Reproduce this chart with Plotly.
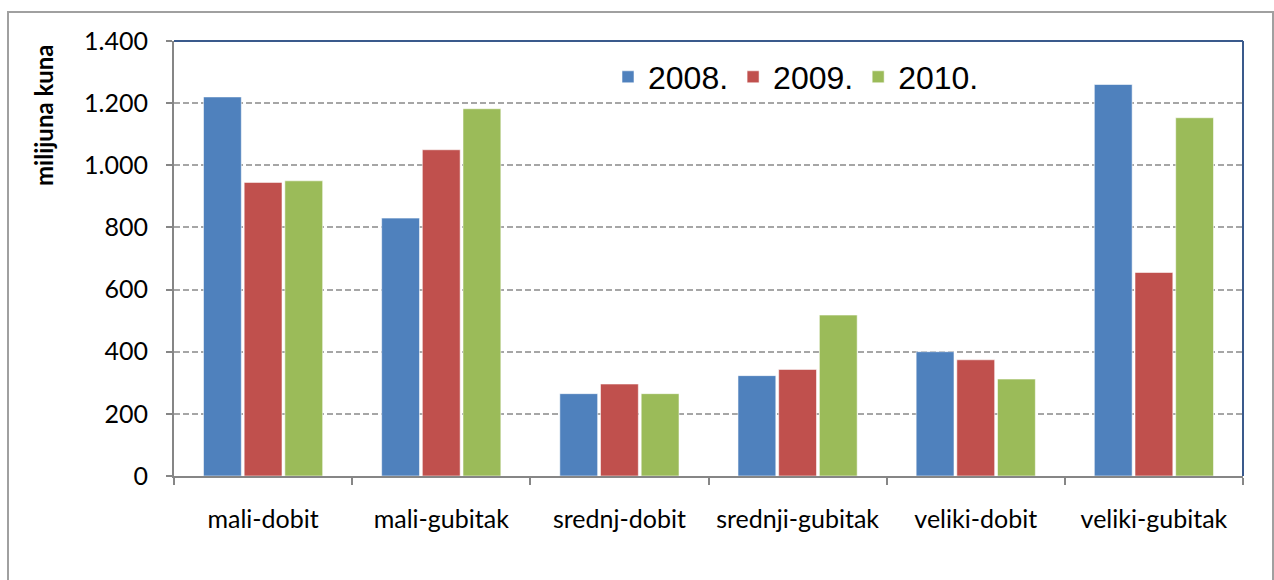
import plotly.graph_objects as go

# Categories and yearly values (milijuna kuna)
categories = ["mali-dobit", "mali-gubitak", "srednj-dobit",
              "srednji-gubitak", "veliki-dobit", "veliki-gubitak"]
years = ["2008.", "2009.", "2010."]
values_2008 = [1220, 830, 265, 323, 400, 1260]
values_2009 = [945, 1050, 296, 343, 374, 655]
values_2010 = [950, 1182, 265, 518, 312, 1153]
y_ticks = [0, 200, 400, 600, 800, 1000, 1200, 1400]

series = [values_2008, values_2009, values_2010]
colors = ["#4F81BD", "#C0504D", "#9BBB59"]

W, H = 1274, 580
L, R, T, B = 174, 31, 41, 104
pw, ph = W - L - R, H - T - B

fig = go.Figure()
for name, vals, col in zip(years, series, colors):
    fig.add_trace(go.Bar(
        name=name, x=categories, y=vals,
        marker=dict(color=col, line=dict(color="rgba(255,255,255,0.55)", width=1)),
    ))

axis_font = dict(family="Lato, Open Sans, sans-serif", size=25, color="#000000")

fig.update_layout(
    width=W, height=H,
    margin=dict(l=L, r=R, t=T, b=B, pad=0),
    paper_bgcolor="white", plot_bgcolor="white",
    separators=",.",
    barmode="group", bargap=0.315, bargroupgap=0.07,
    showlegend=True,
    legend=dict(
        orientation="h", x=(608 - L) / pw, xanchor="left",
        y=(H - B - 77) / ph, yanchor="middle",
        font=dict(family="Liberation Sans, Arial, sans-serif", size=32, color="#000000"),
        bgcolor="rgba(0,0,0,0)",
    ),
    xaxis=dict(
        type="category", tickson="boundaries", ticks="outside", ticklen=7,
        tickwidth=2, tickcolor="#868686", showline=True, linecolor="#868686",
        linewidth=2, showgrid=False, tickfont=axis_font, ticklabelstandoff=20,
    ),
    yaxis=dict(
        range=[0, 1400], tickvals=y_ticks, tickformat=",d", ticks="outside",
        ticklen=6, tickwidth=2, tickcolor="#868686", showline=True,
        linecolor="#868686", linewidth=2, showgrid=True, gridcolor="#A6A6A6",
        gridwidth=1.5, griddash="6px,3px", zeroline=False, tickfont=axis_font,
        ticklabelstandoff=13,
    ),
    font=axis_font,
)

# Y axis title placed near the top of the axis
fig.add_annotation(
    text="<b>milijuna kuna</b>", textangle=-90, xref="paper", yref="paper",
    x=(44 - L) / pw, y=(H - B - 115) / ph, xanchor="center", yanchor="middle",
    showarrow=False, font=dict(family="Lato, Open Sans, sans-serif", size=24, color="#000000"),
)

# Plot area frame (top and right) and outer chart border
fig.add_shape(type="line", xref="paper", yref="paper", x0=0, x1=1, y0=1, y1=1,
              line=dict(color="#3A5A8C", width=2))
fig.add_shape(type="line", xref="paper", yref="paper", x0=1, x1=1, y0=0, y1=1,
              line=dict(color="#3A5A8C", width=2))
fig.add_shape(type="rect", xref="paper", yref="paper",
              x0=(8 - L) / pw, x1=(1273 - L) / pw,
              y0=(H - B - 600) / ph, y1=(H - B - 12) / ph,
              line=dict(color="#A0A0A0", width=2), fillcolor="rgba(0,0,0,0)",
              layer="below")

fig.write_html("out.html")
